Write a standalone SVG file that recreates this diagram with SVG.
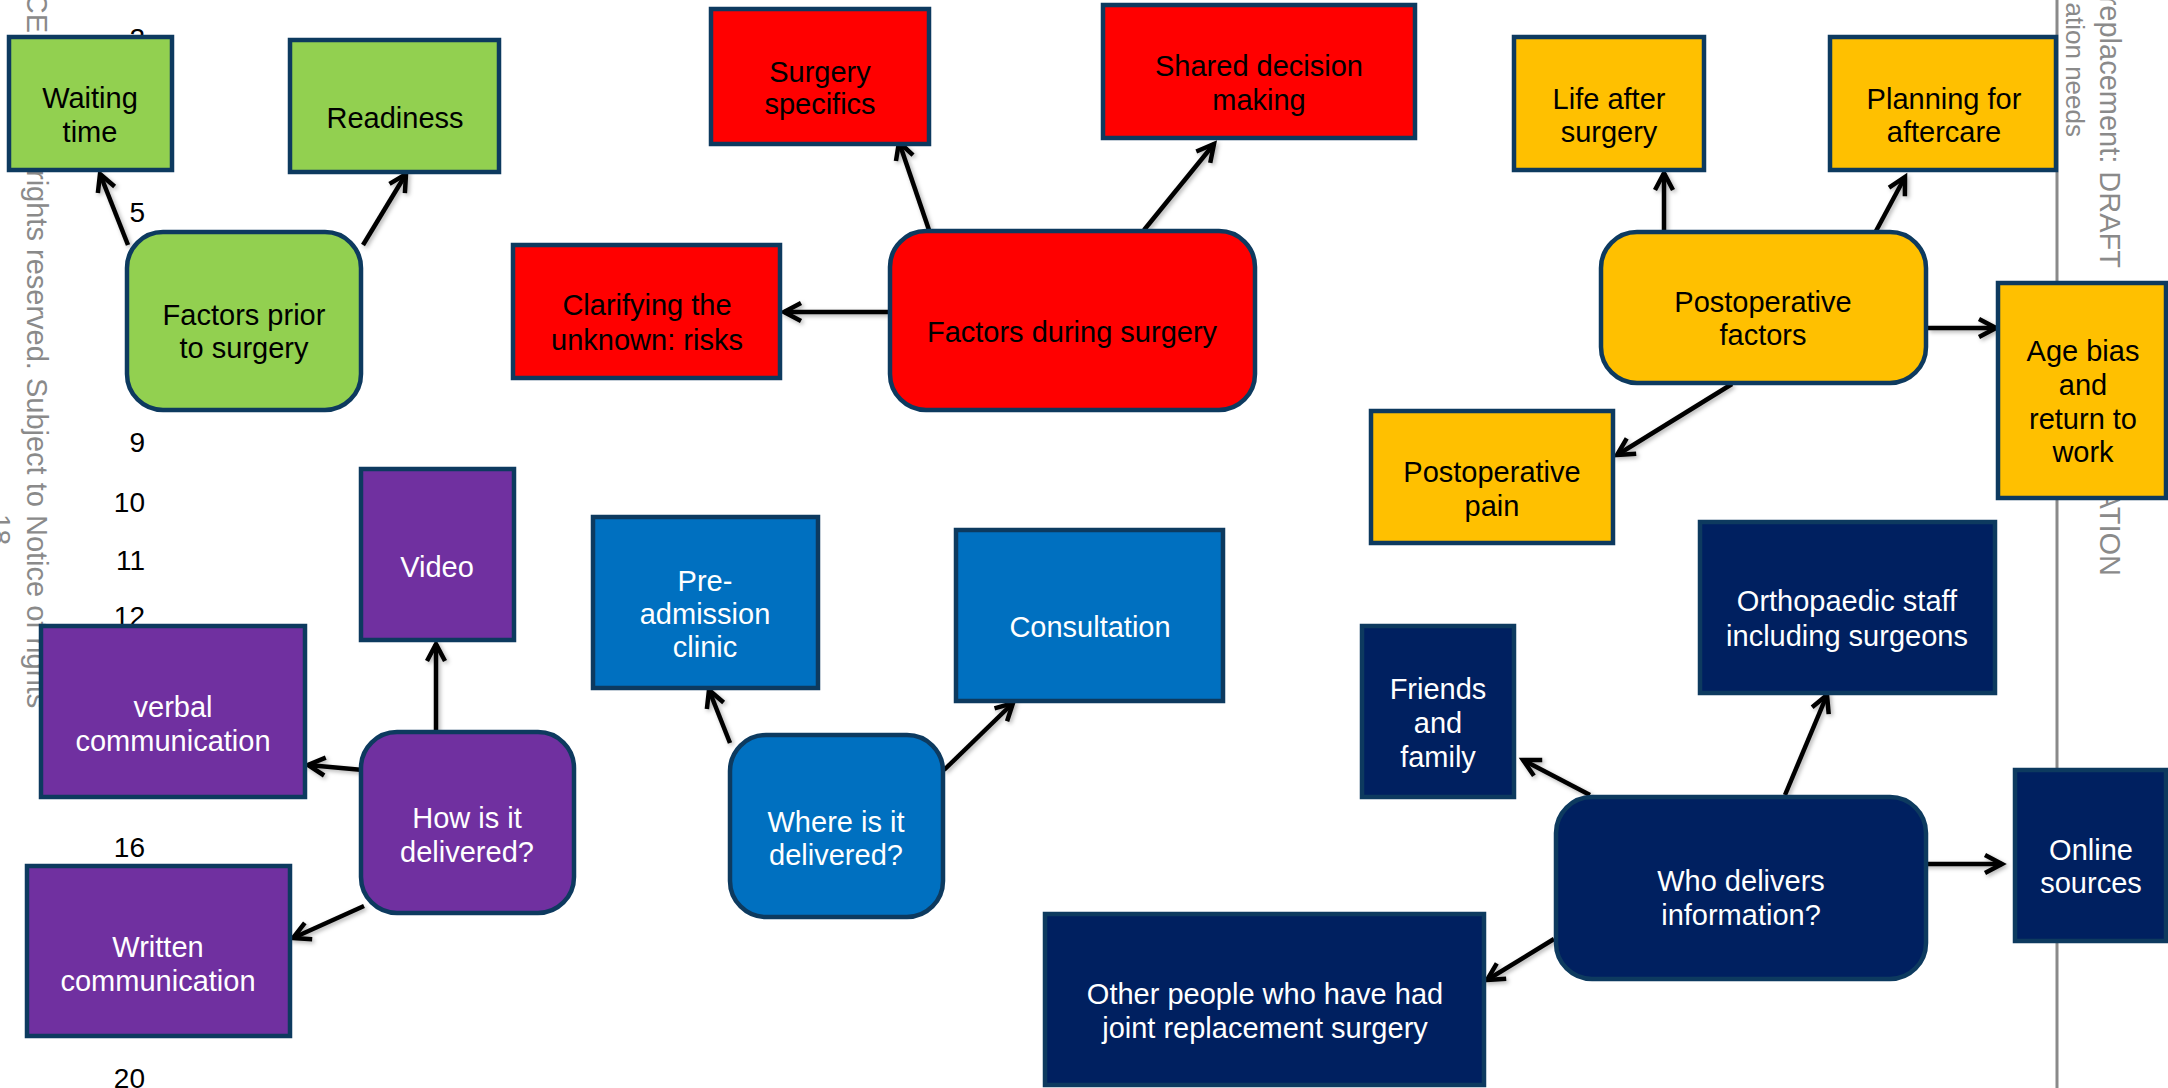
<svg xmlns="http://www.w3.org/2000/svg" width="2168" height="1088" viewBox="0 0 2168 1088">
<style>
  .n rect { stroke: #0d3a5f; stroke-width: 4.5; }
  .g rect { fill: #92D050; }
  .r rect { fill: #FF0000; }
  .y rect { fill: #FFC000; }
  .p rect { fill: #7030A0; }
  .b rect { fill: #0070C0; }
  .v rect { fill: #002060; }
  .n text { font-family: "Liberation Sans", Arial, sans-serif; font-size: 29px; text-anchor: middle; }
  .g text, .r text, .y text { fill: #000; }
  .p text, .b text, .v text { fill: #fff; }
  .num { font-family: "Liberation Sans", Arial, sans-serif; font-size: 28px; fill: #000; text-anchor: end; }
  .gray { font-family: "Liberation Sans", Arial, sans-serif; font-size: 29px; fill: #8a8a8a; }
  .conn line { stroke: #000; stroke-width: 4.5; fill: none; marker-end: url(#arr); }
</style>
<defs>
  <marker id="arr" viewBox="0 0 24 22" refX="20" refY="11" markerWidth="24" markerHeight="22" markerUnits="userSpaceOnUse" orient="auto" overflow="visible">
    <path d="M3,2 L20,11 L3,20" fill="none" stroke="#000" stroke-width="4.5" stroke-linejoin="miter"/>
  </marker>
  <filter id="sh" x="-20%" y="-20%" width="140%" height="140%">
    <feDropShadow dx="2" dy="2" stdDeviation="2" flood-color="#000" flood-opacity="0.3"/>
  </filter>
</defs>
<rect x="0" y="0" width="2168" height="1088" fill="#fff"/>

<g id="background">
  <text class="num" x="145" y="48">2</text>
  <text class="num" x="145" y="222">5</text>
  <text class="num" x="145" y="452">9</text>
  <text class="num" x="145" y="512">10</text>
  <text class="num" x="145" y="570">11</text>
  <text class="num" x="145" y="626">12</text>
  <text class="num" x="145" y="857">16</text>
  <text class="num" x="145" y="1088">20</text>
  <text class="gray" transform="translate(27,33) rotate(90)" text-anchor="end">CE</text>
  <text class="gray" transform="translate(27,170) rotate(90)">rights reserved. Subject to Notice of rights</text>
  <text class="gray" transform="translate(-9,514) rotate(90)" style="font-size:28px">18</text>
  <line x1="2057" y1="0" x2="2057" y2="1088" stroke="#8a8a8a" stroke-width="3"/>
  <text class="gray" transform="translate(2066,137) rotate(90)" text-anchor="end" style="font-size:26px">ation needs</text>
  <text class="gray" transform="translate(2100,268) rotate(90)" text-anchor="end">replacement: DRAFT</text>
  <text class="gray" transform="translate(2100,576) rotate(90)" text-anchor="end">ATION</text>
</g>

<g id="connectors" class="conn" filter="url(#sh)">
  <line x1="128" y1="245" x2="100" y2="174"/>
  <line x1="363" y1="245" x2="406" y2="174"/>
  <line x1="929" y1="230" x2="899" y2="142"/>
  <line x1="1144" y1="230" x2="1214" y2="144"/>
  <line x1="888" y1="312" x2="784" y2="312"/>
  <line x1="436" y1="733" x2="436" y2="644"/>
  <line x1="363" y1="770" x2="308" y2="765"/>
  <line x1="364" y1="906" x2="293" y2="938"/>
  <line x1="730" y1="743" x2="709" y2="690"/>
  <line x1="944" y1="770" x2="1013" y2="703"/>
  <line x1="1664" y1="232" x2="1664" y2="173"/>
  <line x1="1876" y1="231" x2="1905" y2="177"/>
  <line x1="1928" y1="328" x2="1996" y2="328"/>
  <line x1="1732" y1="384" x2="1617" y2="455"/>
  <line x1="1590" y1="795" x2="1523" y2="760"/>
  <line x1="1785" y1="795" x2="1827" y2="695"/>
  <line x1="1917" y1="864" x2="2002" y2="864"/>
  <line x1="1554" y1="939" x2="1487" y2="980"/>
</g>

<g id="waiting-time" class="n g"><rect x="9" y="37" width="163" height="133"/><text x="90" y="108">Waiting</text><text x="90" y="142">time</text></g>
<g id="readiness" class="n g"><rect x="290" y="40" width="209" height="132"/><text x="395" y="128">Readiness</text></g>
<g id="factors-prior" class="n g"><rect x="127" y="232" width="234" height="178" rx="36"/><text x="244" y="325">Factors prior</text><text x="244" y="358">to surgery</text></g>

<g id="surgery-specifics" class="n r"><rect x="711" y="9" width="218" height="135"/><text x="820" y="82">Surgery</text><text x="820" y="114">specifics</text></g>
<g id="shared-decision" class="n r"><rect x="1103" y="5" width="312" height="133"/><text x="1259" y="76">Shared decision</text><text x="1259" y="110">making</text></g>
<g id="clarifying" class="n r"><rect x="513" y="245" width="267" height="133"/><text x="647" y="315">Clarifying the</text><text x="647" y="350">unknown: risks</text></g>
<g id="factors-during" class="n r"><rect x="890" y="231" width="365" height="179" rx="36"/><text x="1072" y="342">Factors during surgery</text></g>

<g id="video" class="n p"><rect x="361" y="469" width="153" height="171"/><text x="437" y="577">Video</text></g>
<g id="verbal" class="n p"><rect x="41" y="626" width="264" height="171"/><text x="173" y="717">verbal</text><text x="173" y="751">communication</text></g>
<g id="how-delivered" class="n p"><rect x="361" y="732" width="213" height="181" rx="36"/><text x="467" y="828">How is it</text><text x="467" y="862">delivered?</text></g>
<g id="written" class="n p"><rect x="27" y="866" width="263" height="170"/><text x="158" y="957">Written</text><text x="158" y="991">communication</text></g>

<g id="pre-admission" class="n b"><rect x="593" y="517" width="225" height="171"/><text x="705" y="591">Pre-</text><text x="705" y="624">admission</text><text x="705" y="657">clinic</text></g>
<g id="consultation" class="n b"><rect x="956" y="530" width="267" height="171"/><text x="1090" y="637">Consultation</text></g>
<g id="where-delivered" class="n b"><rect x="730" y="735" width="213" height="182" rx="36"/><text x="836" y="832">Where is it</text><text x="836" y="865">delivered?</text></g>

<g id="life-after" class="n y"><rect x="1514" y="37" width="190" height="133"/><text x="1609" y="109">Life after</text><text x="1609" y="142">surgery</text></g>
<g id="planning" class="n y"><rect x="1830" y="37" width="226" height="133"/><text x="1944" y="109">Planning for</text><text x="1944" y="142">aftercare</text></g>
<g id="postop-factors" class="n y"><rect x="1601" y="232" width="325" height="151" rx="36"/><text x="1763" y="312">Postoperative</text><text x="1763" y="345">factors</text></g>
<g id="age-bias" class="n y"><rect x="1998" y="283" width="168" height="215"/><text x="2083" y="361">Age bias</text><text x="2083" y="395">and</text><text x="2083" y="429">return to</text><text x="2083" y="462">work</text></g>
<g id="postop-pain" class="n y"><rect x="1371" y="411" width="242" height="132"/><text x="1492" y="482">Postoperative</text><text x="1492" y="516">pain</text></g>

<g id="friends" class="n v"><rect x="1362" y="626" width="152" height="171"/><text x="1438" y="699">Friends</text><text x="1438" y="733">and</text><text x="1438" y="767">family</text></g>
<g id="orthopaedic" class="n v"><rect x="1700" y="522" width="295" height="171"/><text x="1847" y="611">Orthopaedic staff</text><text x="1847" y="646">including surgeons</text></g>
<g id="who-delivers" class="n v"><rect x="1556" y="797" width="370" height="182" rx="36"/><text x="1741" y="891">Who delivers</text><text x="1741" y="925">information?</text></g>
<g id="online" class="n v"><rect x="2015" y="770" width="151" height="171"/><text x="2091" y="860">Online</text><text x="2091" y="893">sources</text></g>
<g id="other-people" class="n v"><rect x="1045" y="914" width="439" height="171"/><text x="1265" y="1004">Other people who have had</text><text x="1265" y="1038">joint replacement surgery</text></g>
</svg>
